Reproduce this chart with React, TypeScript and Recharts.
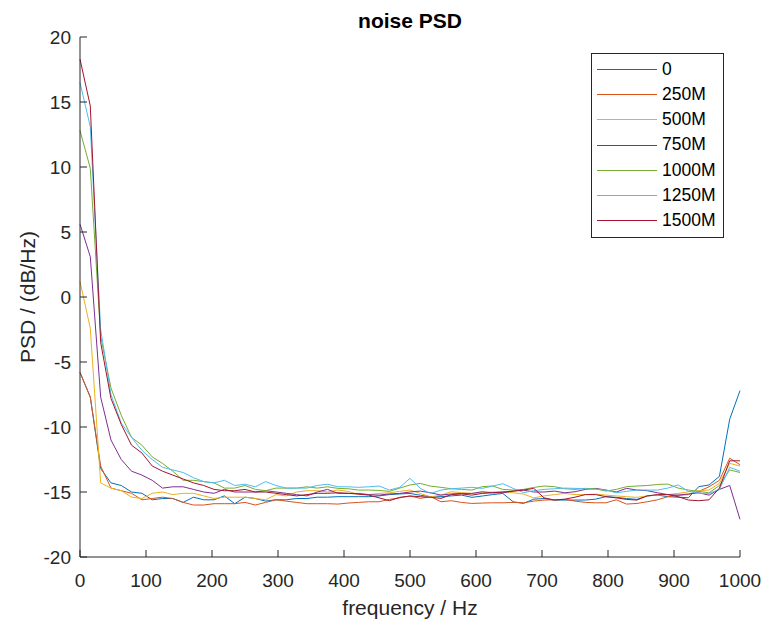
import React from "react";
import { LineChart, Line, XAxis, YAxis, Legend } from "recharts";

// frequency grid (Hz)
const freq = [
  0, 15.6, 31.3, 46.9, 62.5, 78.1, 93.8, 109.4, 125, 140.6, 156.3, 171.9, 187.5,
  203.1, 218.8, 234.4, 250, 265.6, 281.3, 296.9, 312.5, 328.1, 343.8, 359.4, 375,
  390.6, 406.3, 421.9, 437.5, 453.1, 468.8, 484.4, 500, 515.6, 531.3, 546.9, 562.5,
  578.1, 593.8, 609.4, 625, 640.6, 656.3, 671.9, 687.5, 703.1, 718.8, 734.4, 750,
  765.6, 781.3, 796.9, 812.5, 828.1, 843.8, 859.4, 875, 890.6, 906.3, 921.9, 937.5,
  953.1, 968.8, 984.4, 1000,
];

const psd0 = [
  -5.8, -7.7, -13.2, -14.3, -14.5, -15.0, -15.1, -15.6, -15.5, -15.5, -15.8, -15.4, -15.6,
  -15.6, -15.3, -15.9, -15.4, -15.5, -15.7, -15.6, -15.6, -15.5, -15.5, -15.4, -15.4,
  -15.36, -15.36, -15.36, -15.36, -15.3, -15.2, -15.15, -15.11, -15.25, -15.36, -15.36, -15.3,
  -15.24, -15.41, -15.31, -15.2, -15.11, -15.75, -15.88, -15.55, -15.5, -15.62, -15.62, -15.62,
  -15.62, -15.55, -15.36, -15.41, -15.5, -15.57, -15.3, -15.24, -15.36, -15.4, -15.44, -14.59,
  -14.46, -13.8, -9.4, -7.2,
];

const psd250 = [
  -5.8, -7.7, -13.0, -14.7, -14.9, -15.1, -15.6, -15.5, -15.4, -15.5, -15.8, -16.0, -16.0,
  -15.9, -15.9, -15.9, -15.8, -16.0, -15.8, -15.6, -15.7, -15.8, -15.9, -15.9, -15.9,
  -15.93, -15.85, -15.8, -15.75, -15.75, -15.57, -15.45, -15.31, -15.49, -15.36, -15.75, -15.67,
  -15.8, -15.88, -15.85, -15.83, -15.83, -15.8, -15.83, -15.7, -15.62, -15.6, -15.57, -15.7,
  -15.8, -15.83, -15.83, -15.6, -15.93, -15.88, -15.75, -15.6, -15.36, -15.25, -15.2, -14.95,
  -14.6, -14.1, -12.4, -12.9,
];

const psd500 = [
  1.2, -2.4, -14.3, -14.7, -14.9, -15.4, -15.5, -15.1, -15.0, -15.2, -15.1, -15.1, -15.3,
  -15.5, -15.4, -15.4, -15.4, -15.5, -15.6, -15.2, -15.3, -15.0, -14.9, -14.9, -15.0,
  -14.85, -14.95, -15.2, -15.2, -15.11, -15.06, -14.95, -14.85, -15.11, -15.38, -15.24, -14.98,
  -15.05, -15.11, -15.06, -15.0, -14.98, -15.06, -15.16, -15.45, -15.3, -15.2, -15.11, -15.2,
  -15.2, -15.16, -15.24, -15.3, -15.36, -15.41, -15.3, -15.24, -15.2, -15.11, -14.98, -14.9,
  -14.85, -14.34, -12.8, -13.0,
];

const psd750 = [
  5.6, 3.1, -7.7, -11.0, -12.5, -13.4, -13.7, -14.1, -14.7, -14.6, -14.6, -14.8, -15.0,
  -15.1, -14.8, -15.0, -15.0, -15.0, -14.9, -15.0, -15.1, -15.2, -15.3, -15.0, -14.8,
  -15.1, -15.11, -15.11, -15.2, -15.24, -15.15, -15.11, -15.0, -14.93, -15.06, -15.24, -15.15,
  -15.11, -15.11, -14.98, -15.06, -15.06, -14.93, -14.85, -15.0, -15.0, -14.93, -15.06, -14.98,
  -14.8, -14.72, -14.85, -15.0, -14.72, -14.85, -14.9, -15.06, -15.2, -15.24, -15.15, -15.06,
  -15.24, -14.8, -14.5, -17.1,
];

const psd1000 = [
  12.8, 9.9, -3.0, -7.0, -9.1, -10.8, -11.4, -12.3, -12.8, -13.4, -14.1, -14.1, -14.2,
  -14.3, -14.7, -14.7, -14.5, -14.8, -14.9, -14.7, -14.7, -14.7, -14.6, -14.7, -14.6,
  -14.72, -14.75, -14.85, -14.85, -14.88, -14.95, -14.7, -14.46, -14.34, -14.55, -14.64, -14.75,
  -14.8, -14.85, -14.59, -14.54, -14.8, -14.85, -14.8, -14.65, -14.54, -14.59, -14.75, -14.8,
  -14.72, -14.75, -14.93, -14.8, -14.59, -14.54, -14.5, -14.42, -14.39, -14.7, -14.85, -14.95,
  -15.06, -14.5, -13.3, -13.5,
];

const psd1250 = [
  16.5, 13.1, -2.5, -7.5, -9.7, -10.8, -11.8, -12.5, -13.1, -13.3, -13.5, -13.9, -14.2,
  -14.3, -14.1, -14.5, -14.4, -14.6, -14.2, -14.5, -14.7, -14.7, -14.7, -14.5, -14.4,
  -14.6, -14.6, -14.64, -14.6, -14.54, -14.85, -14.64, -13.95, -14.72, -15.11, -14.85, -14.75,
  -14.7, -14.64, -14.72, -14.55, -14.36, -14.72, -15.05, -14.9, -14.8, -14.75, -14.7, -14.72,
  -14.75, -14.8, -14.85, -15.06, -14.95, -14.85, -14.85, -14.85, -14.7, -14.46, -14.95, -15.1,
  -15.1, -14.8, -13.1, -13.4,
];

const psd1500 = [
  18.3, 14.7, -3.5, -7.8, -9.8, -11.4, -12.0, -13.0, -13.4, -13.7, -14.0, -14.3, -14.5,
  -14.8, -14.9, -14.9, -14.8, -15.0, -15.0, -15.1, -15.2, -15.3, -15.2, -15.1, -15.1,
  -15.06, -15.1, -15.16, -15.24, -15.45, -15.67, -15.41, -15.31, -15.36, -15.41, -15.49, -15.2,
  -15.15, -15.24, -15.11, -15.06, -15.0, -14.93, -14.85, -14.72, -15.45, -15.62, -15.55, -15.4,
  -15.2, -15.2, -15.36, -15.45, -15.57, -15.62, -15.3, -15.2, -15.2, -15.36, -15.62, -15.67,
  -15.6, -14.7, -12.6, -12.6,
];

const seriesNames = ["0", "250M", "500M", "750M", "1000M", "1250M", "1500M"];
const seriesColors = ["#0072BD", "#D95319", "#EDB120", "#7E2F8E", "#77AC30", "#4DBEEE", "#A2142F"];
const seriesValues = [psd0, psd250, psd500, psd750, psd1000, psd1250, psd1500];

const xTicks = [0, 100, 200, 300, 400, 500, 600, 700, 800, 900, 1000];
const yTicks = [-20, -15, -10, -5, 0, 5, 10, 15, 20];

const data = freq.map((f, i) => {
  const row: Record<string, number> = { f };
  seriesValues.forEach((s, k) => {
    row["s" + k] = s[i];
  });
  return row;
});

const FONT = '"Liberation Sans", Arial, Helvetica, sans-serif';
const AXIS = "#262626";

const XTick = (props: any) => {
  const { x, y, payload } = props;
  return (
    <g>
      <line x1={x} x2={x} y1={y} y2={y - 7} stroke={AXIS} strokeWidth={1} />
      <text x={x} y={y + 30} textAnchor="middle" fontSize={19} fontFamily={FONT} fill={AXIS}>
        {payload.value}
      </text>
    </g>
  );
};

const YTick = (props: any) => {
  const { x, y, payload } = props;
  return (
    <g>
      <line x1={x} x2={x + 7} y1={y} y2={y} stroke={AXIS} strokeWidth={1} />
      <text x={x - 9} y={y + 7} textAnchor="end" fontSize={19} fontFamily={FONT} fill={AXIS}>
        {payload.value}
      </text>
    </g>
  );
};

// legend in plotting order, like the original
const LegendBox = () => (
  <div
    style={{
      border: "1px solid " + AXIS,
      background: "#fff",
      width: 131,
      height: 180,
      boxSizing: "content-box",
      paddingTop: 3,
      fontFamily: FONT,
      fontSize: 17.5,
      color: "#000",
    }}
  >
    {seriesNames.map((name, k) => (
      <div key={name} style={{ display: "flex", alignItems: "center", height: 25.2 }}>
        <div style={{ width: 60, height: 1, background: seriesColors[k], marginLeft: 5, marginRight: 5 }} />
        <span style={{ lineHeight: 1 }}>{name}</span>
      </div>
    ))}
  </div>
);

export default function App() {
  return (
    <div style={{ position: "fixed", left: 0, top: 0, width: 765, height: 625, background: "#fff" }}>
      <LineChart
        width={765}
        height={625}
        data={data}
        margin={{ top: 37, right: 25, bottom: 0, left: 0 }}
      >
        <XAxis
          dataKey="f"
          type="number"
          domain={[0, 1000]}
          ticks={xTicks}
          height={68}
          tickSize={0}
          tickMargin={0}
          tickLine={false}
          tick={<XTick />}
          stroke={AXIS}
          interval={0}
        />
        <YAxis
          type="number"
          domain={[-20, 20]}
          ticks={yTicks}
          width={80}
          tickSize={0}
          tickMargin={0}
          tickLine={false}
          tick={<YTick />}
          stroke={AXIS}
          interval={0}
          allowDataOverflow
        />
        <Legend
          layout="vertical"
          align="center"
          verticalAlign="middle"
          content={<LegendBox />}
          wrapperStyle={{ left: 591, top: 53, width: 133 }}
        />
        {seriesNames.map((name, k) => (
          <Line
            key={name}
            type="linear"
            dataKey={"s" + k}
            name={name}
            stroke={seriesColors[k]}
            strokeWidth={1}
            dot={false}
            activeDot={false}
            isAnimationActive={false}
          />
        ))}
      </LineChart>
      <div
        style={{
          position: "absolute",
          left: 410,
          top: 20,
          transform: "translate(-50%, -50%)",
          fontFamily: FONT,
          fontWeight: "bold",
          fontSize: 21,
          color: "#000",
          whiteSpace: "nowrap",
          lineHeight: 1,
        }}
      >
        noise PSD
      </div>
      <div
        style={{
          position: "absolute",
          left: 410,
          top: 607,
          transform: "translate(-50%, -50%)",
          fontFamily: FONT,
          fontSize: 21,
          color: AXIS,
          whiteSpace: "nowrap",
          lineHeight: 1,
        }}
      >
        frequency / Hz
      </div>
      <div
        style={{
          position: "absolute",
          left: 27,
          top: 297,
          transform: "translate(-50%, -50%) rotate(-90deg)",
          fontFamily: FONT,
          fontSize: 21,
          color: AXIS,
          whiteSpace: "nowrap",
          lineHeight: 1,
        }}
      >
        PSD / (dB/Hz)
      </div>
    </div>
  );
}
